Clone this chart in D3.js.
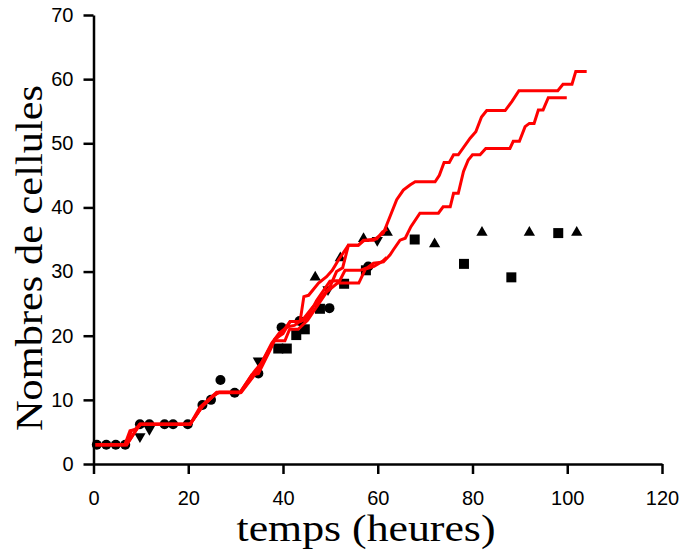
<!DOCTYPE html>
<html><head><meta charset="utf-8">
<script src="https://cdn.jsdelivr.net/npm/d3@7"></script>
<style>body{margin:0;background:#fff}svg{display:block}</style>
</head><body>
<svg id="c" width="682" height="551"></svg>
<script>
const xTicks = [0,20,40,60,80,100,120];
const yTicks = [0,10,20,30,40,50,60,70];

const circles = [[0.7,3],[2.7,3],[4.7,3],[6.7,3],[9.8,6.2],[11.8,6.2],[15,6.2],[16.8,6.2],[19.9,6.2],[23,9.2],[24.8,10],[26.8,13.1],[29.8,11.1],[34.8,14.1],[39.7,21.3],[43.5,22.3],[49.8,24.3],[58,30.8]];
const squares = [[39,18],[40.8,18],[42.8,20.1],[44.6,21],[47.8,24.2],[52.9,28.1],[57.5,30.2],[67.8,35],[78.2,31.2],[88.2,29.1],[98.1,36]];
const trianglesUp = [[46.8,29.1],[52.1,32.1],[57,35.1],[62,36.1],[72,34.3],[82,36.1],[92,36.1],[102,36.1]];
const trianglesDown = [[9.8,4.3],[11.8,5.4],[34.8,16.1],[49.5,27.2],[59.9,34.9]];

const simA = [[0,3],[7,3],[8,5.2],[9,5.4],[10,6.2],[20.4,6.2],[22.5,8.9],[24.2,10],[26,11.2],[31,11.2],[33.4,13.9],[34.8,14.1],[37.3,17.8],[38.3,19.5],[40,20.3],[41.5,22.2],[43.6,22.2],[44.4,26.1],[45.4,26.3],[47.5,28.2],[49.2,29.2],[50.4,30.2],[51.7,31.8],[53.8,34.1],[55.9,34.1],[57,34.9],[59.1,34.9],[61.2,36],[62,37.5],[64,41.2],[65.4,42.7],[66.8,43.5],[67.9,44],[72.1,44],[73,45],[74,47],[75.1,47],[76,48.2],[77,48.2],[79.5,50.8],[80.7,51.8],[81.9,54.1],[83,55.1],[86.9,55.1],[88.3,56.5],[89.8,58.2],[98,58.2],[99.1,59.2],[101,59.2],[101.8,61.2],[104.1,61.2]];
const simB = [[0,3],[7,3],[9.8,6.2],[20.4,6.2],[22.8,8.9],[24.4,10],[26,11.1],[31,11.1],[34.4,14.4],[35.8,16.2],[38,19.1],[39.7,20.4],[41.5,22.2],[43.6,22.2],[45,22.6],[47.1,25.5],[49.9,28.5],[52,28.6],[53.1,30.2],[56.3,30.2],[57.8,30.6],[59.1,31.3],[61.2,31.5],[62.6,32.6],[63.3,33.4],[64.7,34.9],[65.8,35.2],[67,37],[68.9,39.1],[72.8,39.1],[73.8,40.1],[75.3,40.1],[76,42.2],[77,42.2],[78.1,45.6],[79.1,47.4],[80,48.2],[81.6,48.2],[82.8,49.2],[87.9,49.2],[88.6,50.3],[89.9,50.3],[91.1,52.6],[92,53.1],[93,53.1],[93.9,55.2],[94.9,55.2],[96,57.1],[99.9,57.1]];
const simC = [[0,3],[6.6,3],[7.7,5.2],[8.8,5.4],[9.8,6.2],[20.4,6.2],[23,9],[25,10.4],[26.4,11.2],[31,11.2],[33.8,14.3],[35.5,15.8],[37.6,18.8],[39.2,20.4],[41,21.4],[42.4,21.6],[44.3,22.6],[46.2,24.4],[48,25.8],[49.9,27.6],[51.3,30],[52.6,30.6],[53.8,34.1],[55.9,34.1],[57,34.8],[59.8,35.1],[61,36.2],[62,36.6]];
const simD = [[0,3],[7,3],[9.8,6.2],[20.4,6.2],[23.2,9.2],[25.2,10.6],[26.6,11.2],[31.2,11.2],[34.2,14.1],[36.2,16.4],[38.2,19.2],[40.4,19.2],[41.4,21],[43.2,21],[45.2,22.4],[47.2,24.6],[49.2,26.8],[51.5,28.2],[54,28.2],[56,28.2],[57.4,30.4],[59.2,30.8],[61,31.6],[61.9,32.2]];

const svg = d3.select('#c');
const x = d3.scaleLinear().domain([0,120]).range([93.5,662]);
const y = d3.scaleLinear().domain([0,70]).range([464,15]);

// markers
const g = svg.append('g');
const sym = (type, size) => d3.symbol().type(type).size(size)();
g.selectAll('circle.c').data(circles).join('circle')
  .attr('cx', d=>x(d[0])).attr('cy', d=>y(d[1])).attr('r', 5).attr('fill','#000');
g.selectAll('path.s').data(squares).join('path')
  .attr('transform', d=>`translate(${x(d[0])},${y(d[1])})`).attr('d', sym(d3.symbolSquare, 100)).attr('fill','#000');
g.selectAll('path.tu').data(trianglesUp).join('path')
  .attr('transform', d=>`translate(${x(d[0])},${y(d[1])})`).attr('d', sym(d3.symbolTriangle, 55)).attr('fill','#000');
g.selectAll('path.td').data(trianglesDown).join('path')
  .attr('transform', d=>`translate(${x(d[0])},${y(d[1])}) rotate(180)`).attr('d', sym(d3.symbolTriangle, 55)).attr('fill','#000');

// simulation curves
const line = d3.line().x(d=>x(d[0])).y(d=>y(d[1]));
svg.append('g').selectAll('path').data([simD, simC, simB, simA]).join('path')
  .attr('d', line).attr('fill','none').attr('stroke','#ff0000').attr('stroke-width',3).attr('stroke-linejoin','miter');

// axes
const ax = svg.append('g').attr('transform','translate(0,464)')
  .call(d3.axisBottom(x).tickValues(xTicks).tickSize(10).tickPadding(17).tickSizeOuter(0));
const ay = svg.append('g').attr('transform','translate(93.5,0)')
  .call(d3.axisLeft(y).tickValues(yTicks).tickSize(10).tickPadding(10).tickSizeOuter(0));
[ax, ay].forEach(a => {
  a.select('.domain').attr('stroke','#000').attr('stroke-width',2.5);
  a.selectAll('.tick line').attr('stroke','#000').attr('stroke-width',2.5);
  a.selectAll('.tick text').attr('fill','#000').style('font-family','"Liberation Sans", Arial, sans-serif').style('font-size','20px');
});

svg.append('text').text('temps (heures)')
  .attr('x', 366).attr('y', 541).attr('text-anchor','middle')
  .attr('textLength', 259).attr('lengthAdjust','spacingAndGlyphs')
  .style('font-family','"Liberation Serif", "DejaVu Serif", serif').style('font-size','37px').attr('fill','#000');
svg.append('text').text('Nombres de cellules')
  .attr('transform','translate(42,258) rotate(-90)').attr('text-anchor','middle')
  .attr('textLength', 346).attr('lengthAdjust','spacingAndGlyphs')
  .style('font-family','"Liberation Serif", "DejaVu Serif", serif').style('font-size','37px').attr('fill','#000');
</script>
</body></html>
